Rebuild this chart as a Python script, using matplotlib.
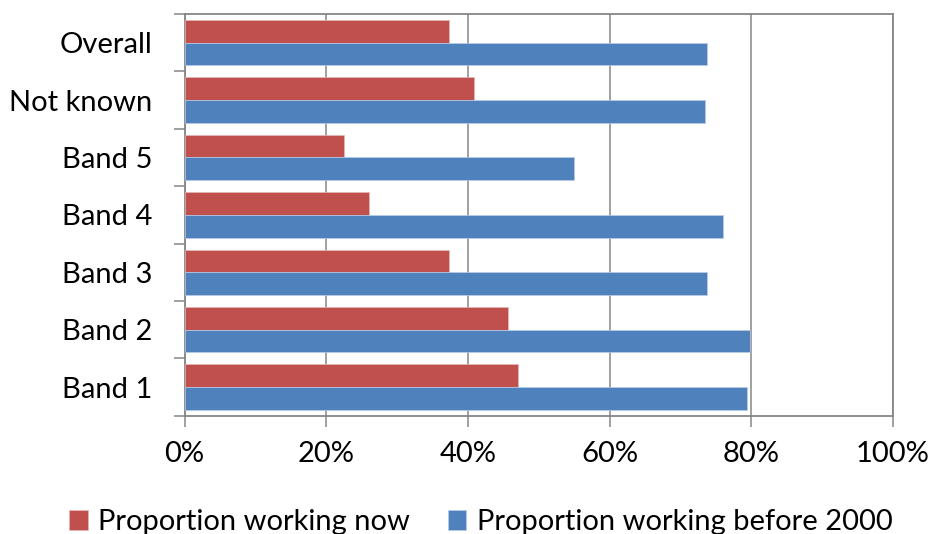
import numpy as np
import matplotlib.pyplot as plt
from matplotlib.ticker import PercentFormatter, FixedLocator

# data, bottom to top
categories = ['Band 1', 'Band 2', 'Band 3', 'Band 4', 'Band 5', 'Not known', 'Overall']
working_now = [47.0, 45.6, 37.4, 26.0, 22.5, 40.9, 37.3]
working_before_2000 = [79.4, 79.8, 73.7, 76.0, 55.0, 73.5, 73.8]

RED = '#C0504D'
BLUE = '#4F81BD'
GREY = '#868686'

plt.rcParams['font.family'] = ['Lato', 'DejaVu Sans']

fig = plt.figure(figsize=(9.33, 5.34), dpi=100)
ax = fig.add_axes([0.1978, 0.2215, 0.7593, 0.7523])

y = np.arange(len(categories))
h = 0.395
ax.barh(y + h / 2, working_now, height=h, color=RED, edgecolor='#e6b9b8', linewidth=0.5,
        label='Proportion working now', zorder=3)
ax.barh(y - h / 2, working_before_2000, height=h, color=BLUE, edgecolor='#b9cde5', linewidth=0.5,
        label='Proportion working before 2000', zorder=3)

ax.set_xlim(0, 100)
ax.set_ylim(-0.5, len(categories) - 0.5)
ax.xaxis.set_major_locator(FixedLocator([0, 20, 40, 60, 80, 100]))
ax.xaxis.set_major_formatter(PercentFormatter(decimals=0))
ax.grid(axis='x', color=GREY, linewidth=1.1, zorder=0)

ax.set_yticks(y)
ax.set_yticklabels(categories)
ax.set_yticks(np.arange(-0.5, len(categories)), minor=True)
ax.tick_params(axis='y', which='major', length=0, pad=23, labelsize=21)
ax.tick_params(axis='y', which='minor', length=8, width=1.1, color=GREY)
ax.tick_params(axis='x', length=8, width=1.1, color=GREY, pad=10, labelsize=21)

for s in ax.spines.values():
    s.set_color(GREY)
    s.set_linewidth(1.3)

fig.legend(loc='center', bbox_to_anchor=(0.515, 0.022), ncol=2, frameon=False,
           fontsize=21, handlelength=0.65, handleheight=0.65, handletextpad=0.35,
           columnspacing=1.3, borderpad=0)

fig.savefig('out.png', dpi=100)
